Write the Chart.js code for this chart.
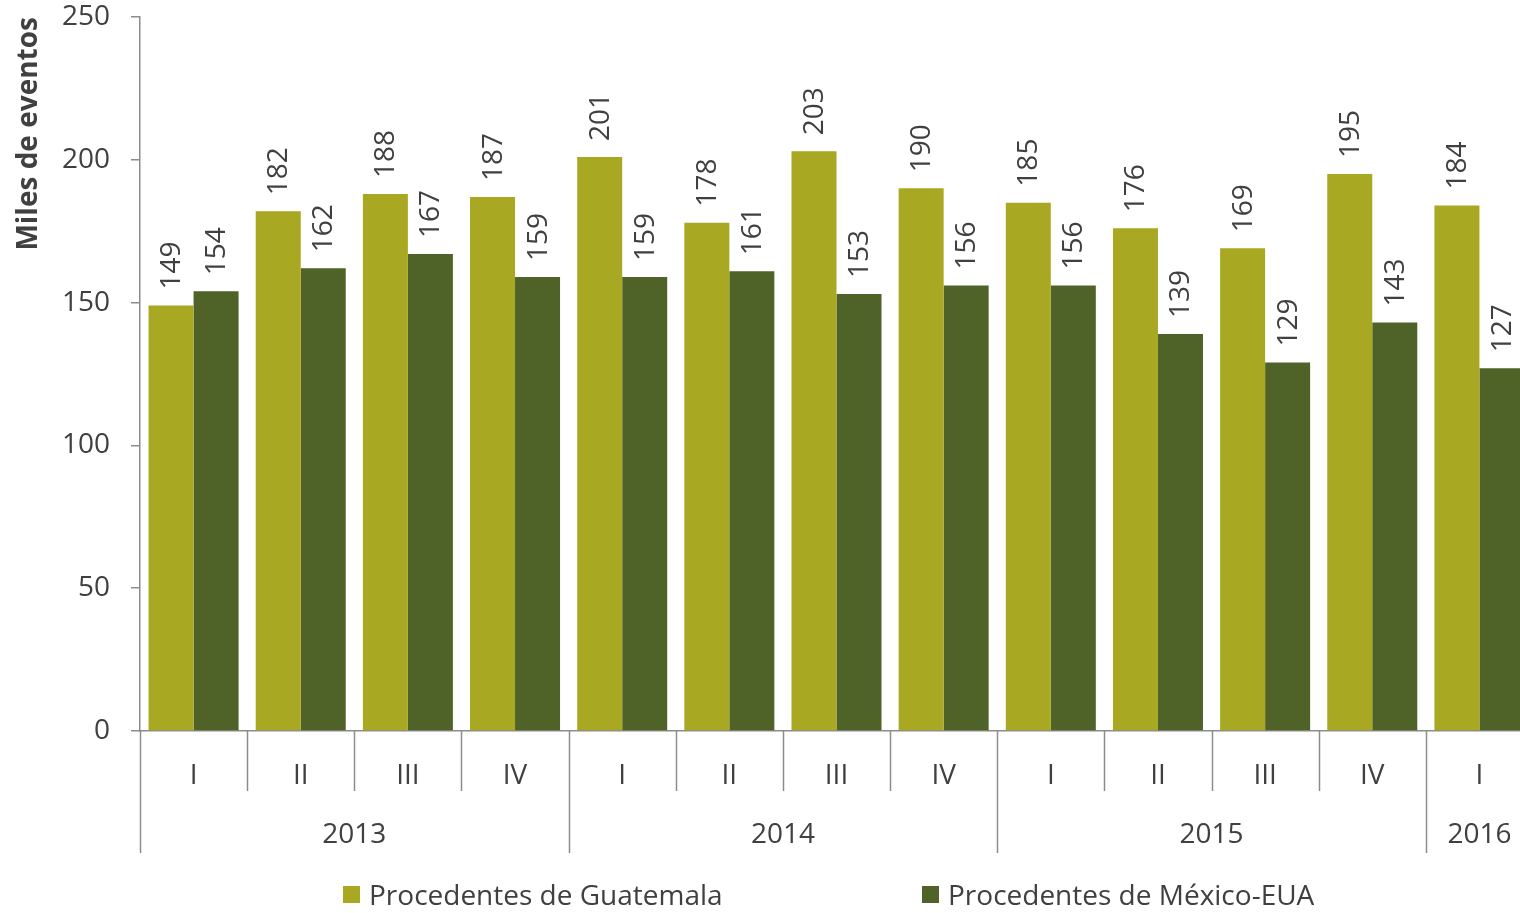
<!DOCTYPE html>
<html>
<head>
<meta charset="utf-8">
<script src="https://cdn.jsdelivr.net/npm/chart.js@4"></script>
<style>
html,body{margin:0;padding:0;background:#fff;overflow:hidden;}
#wrap{position:relative;width:1533px;height:913px;}
</style>
</head>
<body>
<div id="wrap"><canvas id="c"></canvas></div>
<script>
const quarters = ['I','II','III','IV','I','II','III','IV','I','II','III','IV','I'];
const years = ['2013','2014','2015','2016'];
const yearSpans = [4,4,4,1];
const guatemala = [149,182,188,187,201,178,203,190,185,176,169,195,184];
const mexicoEUA = [154,162,167,159,159,161,153,156,156,139,129,143,127];
const seriesNames = ['Procedentes de Guatemala','Procedentes de México-EUA'];
const yTicks = [0,50,100,150,200,250];

const FONT = '"Open Sans", sans-serif';
const FS = 28;
const TXT = '#404040';
const AXIS = '#8c8c8c';
const C1 = '#A8A822';
const C2 = '#4F6228';

const decor = {
  id:'decor',
  afterDraw(chart){
    const ctx = chart.ctx;
    const x = chart.scales.x;
    const area = chart.chartArea;
    const base = area.bottom;
    // data labels
    ctx.save();
    ctx.fillStyle = TXT;
    ctx.font = FS + 'px ' + FONT;
    ctx.textAlign = 'left';
    ctx.textBaseline = 'middle';
    chart.data.datasets.forEach((ds, di) => {
      const meta = chart.getDatasetMeta(di);
      meta.data.forEach((bar, i) => {
        ctx.save();
        ctx.translate(bar.x, bar.y - 16);
        ctx.rotate(-Math.PI/2);
        ctx.fillText(String(ds.data[i]), 0, 1);
        ctx.restore();
      });
    });
    ctx.restore();

    // separators
    const half = (x.getPixelForValue(1) - x.getPixelForValue(0)) / 2;
    ctx.save();
    ctx.strokeStyle = AXIS;
    ctx.lineWidth = 1.5;
    const yearStarts = new Set();
    let acc = 0;
    yearSpans.forEach(s => { yearStarts.add(acc); acc += s; });
    for (let i = 0; i < quarters.length; i++) {
      const px = Math.round(x.getPixelForValue(i) - half) + 0.5;
      const len = yearStarts.has(i) ? 122 : 60;
      ctx.beginPath();
      ctx.moveTo(px, base);
      ctx.lineTo(px, base + len);
      ctx.stroke();
    }
    ctx.restore();

    // year labels
    ctx.save();
    ctx.fillStyle = TXT;
    ctx.font = FS + 'px ' + FONT;
    ctx.textAlign = 'center';
    ctx.textBaseline = 'middle';
    acc = 0;
    yearSpans.forEach((s, k) => {
      const left = x.getPixelForValue(acc) - half;
      const right = x.getPixelForValue(acc + s - 1) + half;
      ctx.fillText(years[k], (left + right) / 2, base + 104);
      acc += s;
    });
    ctx.restore();

    // legend
    ctx.save();
    ctx.font = FS + 'px ' + FONT;
    ctx.textAlign = 'left';
    ctx.textBaseline = 'middle';
    const lx = [343, 922];
    chart.data.datasets.forEach((ds, di) => {
      ctx.fillStyle = ds.backgroundColor;
      ctx.fillRect(lx[di], 886, 17, 17);
      ctx.fillStyle = TXT;
      ctx.fillText(ds.label, lx[di] + 26, 897);
    });
    ctx.restore();
  }
};

new Chart(document.getElementById('c'), {
  type:'bar',
  data:{
    labels: quarters,
    datasets:[
      {label: seriesNames[0], data: guatemala, backgroundColor: C1, categoryPercentage: 0.84, barPercentage: 1.0},
      {label: seriesNames[1], data: mexicoEUA, backgroundColor: C2, categoryPercentage: 0.84, barPercentage: 1.0}
    ]
  },
  options:{
    responsive:true,
    maintainAspectRatio:false,
    animation:false,
    layout:{padding:{top:17,right:0,bottom:0,left:0}},
    plugins:{legend:{display:false}, tooltip:{enabled:false}},
    scales:{
      x:{
        grid:{display:false},
        border:{display:true, color:AXIS, width:1.5},
        ticks:{color:TXT, font:{family:FONT, size:FS}, padding:20, maxRotation:0, autoSkip:false},
        afterFit(s){ s.height = 913 - 731; s.paddingLeft = 0; s.paddingRight = 0; }
      },
      y:{
        min:0, max:250,
        afterBuildTicks(s){ s.ticks = yTicks.map(v => ({value:v})); },
        grid:{display:true, drawOnChartArea:false, drawTicks:true, tickLength:9, color:AXIS, lineWidth:1.5},
        border:{display:true, color:AXIS, width:1.5},
        ticks:{color:TXT, font:{family:FONT, size:FS}, padding:21},
        title:{display:true, text:'Miles de eventos', align:'end', color:TXT, font:{family:FONT, size:28, weight:'bold'}, padding:{top:12,bottom:0}},
        afterFit(s){ s.width = 140; s.paddingTop = 0; s.paddingBottom = 0; }
      }
    }
  },
  plugins:[decor]
});
</script>
</body>
</html>
